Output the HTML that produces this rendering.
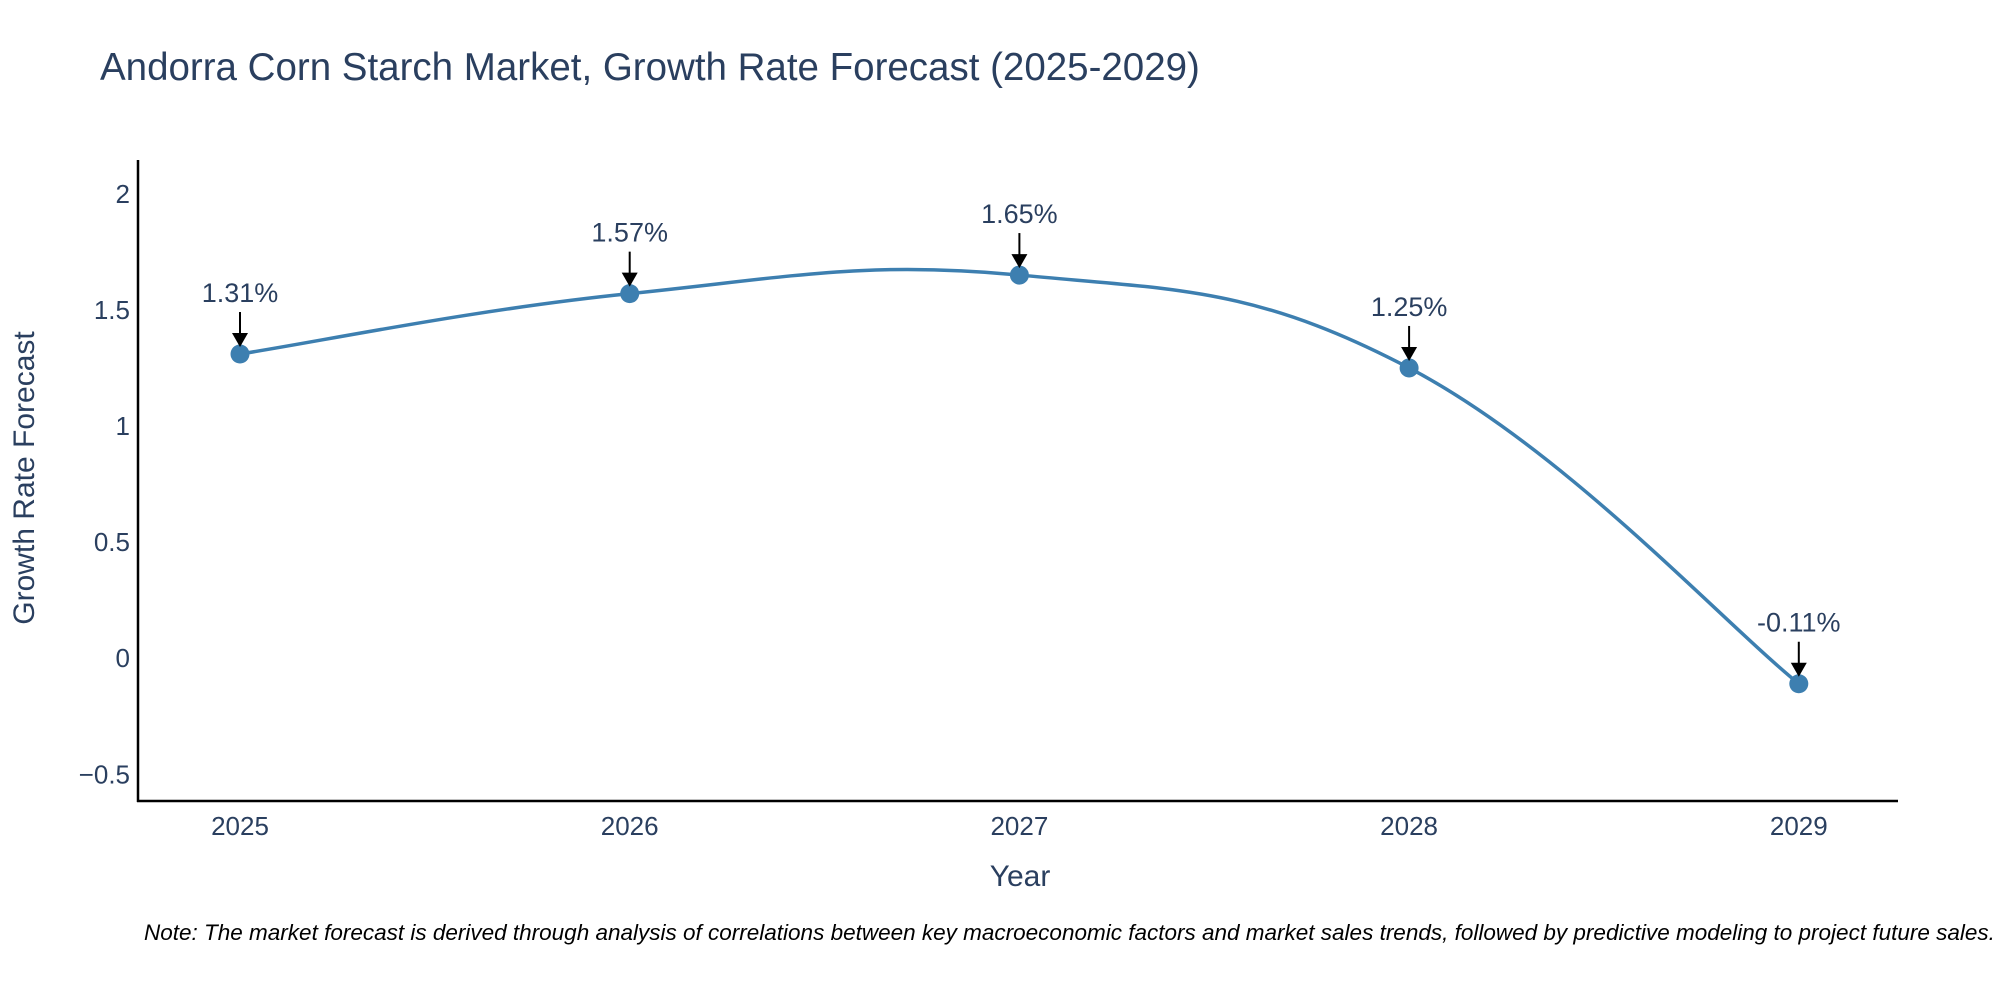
<!DOCTYPE html>
<html><head><meta charset="utf-8"><style>
body{margin:0;background:#fff;font-family:"Liberation Sans",sans-serif;}
svg{display:block}
</style></head><body>
<svg id="chart" width="2000" height="1000" xmlns="http://www.w3.org/2000/svg">
<text x="100" y="80" font-size="38.5" fill="#2a3f5f">Andorra Corn Starch Market, Growth Rate Forecast (2025-2029)</text>
<g id="yticks"></g>
<g id="xticks"></g>
<line x1="138" y1="160" x2="138" y2="802" stroke="#000" stroke-width="2.5"/>
<line x1="137" y1="801" x2="1898" y2="801" stroke="#000" stroke-width="2.5"/>
<text x="34" y="478" font-size="30" fill="#2a3f5f" text-anchor="middle" transform="rotate(-90 34 478)">Growth Rate Forecast</text>
<text x="1020" y="886" font-size="30" fill="#2a3f5f" text-anchor="middle">Year</text>
<path id="line" fill="none" stroke="#3d7fb0" stroke-width="3.5"/>
<g id="points"></g>
<g id="annots"></g>
<text x="144" y="940" font-size="22.5" font-style="italic" fill="#000">Note: The market forecast is derived through analysis of correlations between key macroeconomic factors and market sales trends, followed by predictive modeling to project future sales.</text>
</svg>
<script>
const years = [2025, 2026, 2027, 2028, 2029];
const values = [1.31, 1.57, 1.65, 1.25, -0.11];
const labels = ["1.31%", "1.57%", "1.65%", "1.25%", "-0.11%"];
const yTicks = [-0.5, 0, 0.5, 1, 1.5, 2];
const yTickLabels = ["\u22120.5", "0", "0.5", "1", "1.5", "2"];

const NS = "http://www.w3.org/2000/svg";
const xs = y => 240 + (y - 2025) * 389.7;
const ys = v => 658.2 - v * 232.2;
function mk(tag, attrs, parent, text){
  const e = document.createElementNS(NS, tag);
  for (const k in attrs) e.setAttribute(k, attrs[k]);
  if (text !== undefined) e.textContent = text;
  parent.appendChild(e);
  return e;
}
const yg = document.getElementById('yticks');
yTicks.forEach((t, i) => {
  const e = mk('text', {x: 130, y: ys(t) + 9, 'font-size': 26, fill: '#2a3f5f', 'text-anchor': 'end'}, yg, yTickLabels[i]);
  
  
});
const xg = document.getElementById('xticks');
years.forEach(y => {
  const e = mk('text', {x: xs(y), y: 835, 'font-size': 26, fill: '#2a3f5f', 'text-anchor': 'middle'}, xg, String(y));
  
  
});
const P = years.map((y, i) => [xs(y), ys(values[i])]);
let d = `M${P[0][0]},${P[0][1]}`;
const s = 0.2;
for (let i = 0; i < P.length - 1; i++) {
  const p0 = P[i - 1] || P[i], p1 = P[i], p2 = P[i + 1], p3 = P[i + 2] || P[i + 1];
  const c1 = [p1[0] + (p2[0] - p0[0]) * s, p1[1] + (p2[1] - p0[1]) * s];
  const c2 = [p2[0] - (p3[0] - p1[0]) * s, p2[1] - (p3[1] - p1[1]) * s];
  d += ` C${c1[0]},${c1[1]} ${c2[0]},${c2[1]} ${p2[0]},${p2[1]}`;
}
document.getElementById('line').setAttribute('d', d);
const pg = document.getElementById('points');
const ag = document.getElementById('annots');
P.forEach((p, i) => {
  const c = mk('circle', {cx: p[0], cy: p[1], r: 9.5, fill: '#3d7fb0'}, pg);
  
  
  const top = p[1] - 42;
  const l = mk('line', {x1: p[0], y1: top, x2: p[0], y2: p[1] - 18, stroke: '#000', 'stroke-width': 2}, ag);
  
  
  const h = mk('path', {d: `M${p[0]-8},${p[1]-21} L${p[0]+8},${p[1]-21} L${p[0]},${p[1]-7} Z`, fill: '#000'}, ag);
  
  
  const t = mk('text', {x: p[0], y: top - 10, 'font-size': 27, fill: '#2a3f5f', 'text-anchor': 'middle'}, ag, labels[i]);
  
  
});
</script>
</body></html>
